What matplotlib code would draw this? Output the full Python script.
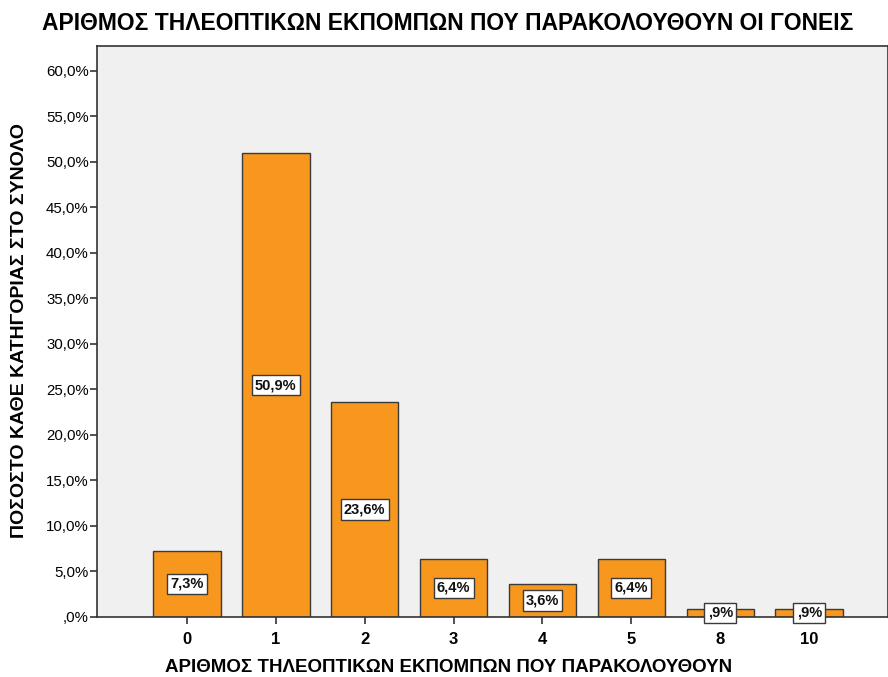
import matplotlib
matplotlib.use("Agg")
import matplotlib.pyplot as plt
from matplotlib import font_manager

categories = ["0", "1", "2", "3", "4", "5", "8", "10"]
values = [7.3, 50.9, 23.6, 6.4, 3.6, 6.4, 0.9, 0.9]
value_labels = ["7,3%", "50,9%", "23,6%", "6,4%", "3,6%", "6,4%", ",9%", ",9%"]
yticks = [0, 5, 10, 15, 20, 25, 30, 35, 40, 45, 50, 55, 60]
ytick_labels = [",0%", "5,0%", "10,0%", "15,0%", "20,0%", "25,0%", "30,0%",
                "35,0%", "40,0%", "45,0%", "50,0%", "55,0%", "60,0%"]

title = "ΑΡΙΘΜΟΣ ΤΗΛΕΟΠΤΙΚΩΝ ΕΚΠΟΜΠΩΝ ΠΟΥ ΠΑΡΑΚΟΛΟΥΘΟΥΝ ΟΙ ΓΟΝΕΙΣ"
xlabel = "ΑΡΙΘΜΟΣ ΤΗΛΕΟΠΤΙΚΩΝ ΕΚΠΟΜΠΩΝ ΠΟΥ ΠΑΡΑΚΟΛΟΥΘΟΥΝ"
ylabel = "ΠΟΣΟΣΤΟ ΚΑΘΕ ΚΑΤΗΓΟΡΙΑΣ ΣΤΟ ΣΥΝΟΛΟ"

plt.rcParams['font.family'] = ['Liberation Sans', 'DejaVu Sans']

names = {f.name for f in font_manager.fontManager.ttflist}
narrow = 'Liberation Sans Narrow' if 'Liberation Sans Narrow' in names else None

fig = plt.figure(figsize=(8.88, 6.77), dpi=100)
fig.patch.set_facecolor("white")
ax = fig.add_axes([97/888, 60/677, 1 - 97/888 - 0.5/888, (617-46)/677])
ax.set_facecolor("#F0F0F0")

x = list(range(len(categories)))
ax.bar(x, values, width=0.76, color="#F7971E", edgecolor="#3a3a3a", linewidth=1.0, zorder=2)

for xi, v, lab in zip(x, values, value_labels):
    ax.text(xi, v / 2, lab, ha="center", va="center", fontsize=10.5, fontweight="bold",
            color="#111111", zorder=4,
            bbox=dict(boxstyle="square,pad=0.22", facecolor="white", edgecolor="#3a3a3a", linewidth=1.0))

ax.set_xlim(-1.01, 7.88)
ax.set_ylim(0, 62.7)
ax.set_xticks(x)
ax.set_xticklabels(categories, fontsize=12, fontweight="bold")
ax.set_yticks(yticks)
ax.set_yticklabels(ytick_labels, fontsize=10.8)
ax.tick_params(axis="both", direction="out", length=5, width=1.2, color="#333333")
ax.tick_params(axis="x", pad=6)
ax.tick_params(axis="y", pad=1)

for s in ax.spines.values():
    s.set_color("#333333")
    s.set_linewidth(1.2)

if narrow:
    fig.text(448/888, 1 - 23/677, title, ha="center", va="center", fontsize=17.5,
             fontweight="bold", family=[narrow, 'Liberation Sans', 'DejaVu Sans'])
else:
    fig.text(448/888, 1 - 23/677, title, ha="center", va="center", fontsize=16.5, fontweight="bold")
fig.text(449/888, 1 - 667/677, xlabel, ha="center", va="center", fontsize=13.5, fontweight="bold")
fig.text(20/888, 1 - 330/677, ylabel, ha="center", va="center", rotation=90, fontsize=14, fontweight="bold")

fig.savefig("out.png", dpi=100)
